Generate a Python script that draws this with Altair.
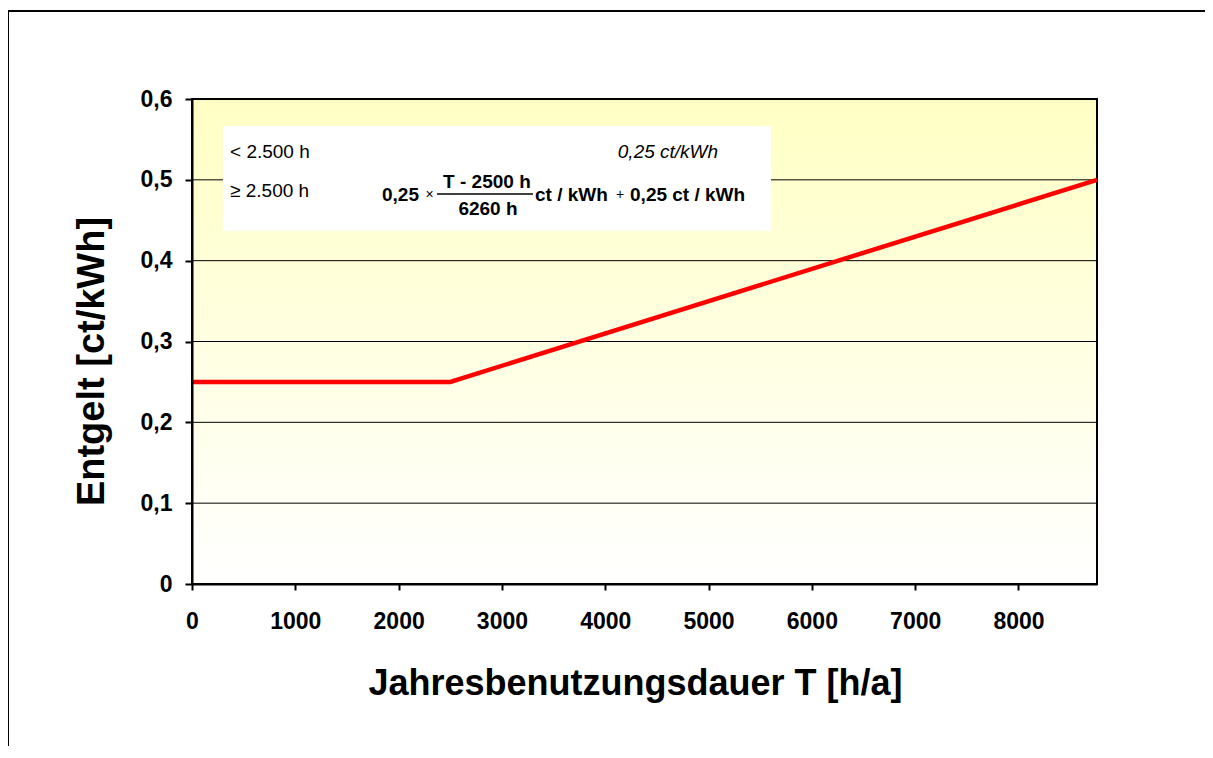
import altair as alt
import pandas as pd

# ---- data ----
T_hours = [0, 2500, 8760]
price = [0.25, 0.25, 0.5]
x_ticks = [0, 1000, 2000, 3000, 4000, 5000, 6000, 7000, 8000]
y_ticks = [0, 0.1, 0.2, 0.3, 0.4, 0.5, 0.6]
grid_vals = [0.1, 0.2, 0.3, 0.4, 0.5]

FONT = "Liberation Sans, Arial, sans-serif"

XDOM = [0, 8760]
YDOM = [0, 0.6]


def X(field="x"):
    return alt.X(
        f"{field}:Q",
        scale=alt.Scale(domain=XDOM, nice=False, zero=False),
        axis=alt.Axis(
            values=x_ticks, grid=False, title="Jahresbenutzungsdauer T [h/a]",
            format="d",
            labelFont=FONT, labelFontSize=23, labelFontWeight="bold", labelColor="black",
            labelPadding=20, tickSize=6, tickWidth=2, tickColor="black",
            domainColor="black", domainWidth=2, labelFlush=False,
            titleFont=FONT, titleFontSize=36, titleFontWeight="bold", titleColor="black",
            titleX=443, titleY=110, titleAlign="center", titleBaseline="alphabetic",
            zindex=1,
        ),
    )


def Y(field="y"):
    return alt.Y(
        f"{field}:Q",
        scale=alt.Scale(domain=YDOM, nice=False, zero=False),
        axis=alt.Axis(
            values=y_ticks, grid=False, title="Entgelt [ct/kWh]",
            labelExpr="datum.value == 0 ? '0' : replace(format(datum.value, '.1f'), '.', ',')",
            labelFont=FONT, labelFontSize=23, labelFontWeight="bold", labelColor="black",
            labelPadding=13, tickSize=7, tickWidth=2, tickColor="black",
            domainColor="black", domainWidth=2, labelFlush=False,
            titleFont=FONT, titleFontSize=38, titleFontWeight="bold", titleColor="black",
            titleAngle=270, titleX=-89, titleY=262, titleAlign="center",
            titleBaseline="alphabetic",
            zindex=1,
        ),
    )


one = pd.DataFrame({"x": [0], "x2": [8760], "y": [0], "y2": [0.6]})

background = alt.Chart(one).mark_rect(
    fill=alt.Gradient(
        gradient="linear",
        stops=[alt.GradientStop(color="#FFFFC4", offset=0),
               alt.GradientStop(color="#FFFFFF", offset=1)],
        x1=0, x2=0, y1=0, y2=1,
    ),
    stroke="black", strokeWidth=2,
).encode(x=X(), x2="x2:Q", y=Y(), y2="y2:Q")

grid = alt.Chart(pd.DataFrame({"y": grid_vals})).mark_rule(
    color="black", strokeWidth=1
).encode(y=Y())

line = alt.Chart(pd.DataFrame({"x": T_hours, "y": price})).mark_line(
    color="#FF0000", strokeWidth=4.5
).encode(x=X(), y=Y())

# white legend box (data coordinates)
box = alt.Chart(pd.DataFrame({"x": [300], "x2": [5605], "y": [0.4367], "y2": [0.5666]})).mark_rect(
    fill="white"
).encode(x=X(), x2="x2:Q", y=Y(), y2="y2:Q")

cond_labels = alt.Chart(pd.DataFrame({
    "x": [368, 368], "y": [0.5344, 0.4862], "t": ["< 2.500 h", "\u2265 2.500 h"]
})).mark_text(align="left", baseline="middle", font=FONT, fontSize=19, color="black").encode(
    x=X(), y=Y(), text="t:N")

flat_label = alt.Chart(pd.DataFrame({"x": [4607], "y": [0.5344], "t": ["0,25 ct/kWh"]})).mark_text(
    align="center", baseline="middle", font=FONT, fontSize=19, fontStyle="italic", color="black"
).encode(x=X(), y=Y(), text="t:N")

bold_left = alt.Chart(pd.DataFrame({
    "x": [1839, 3320, 4240], "y": [0.4813, 0.4813, 0.4813],
    "t": ["0,25", "ct / kWh", "0,25 ct / kWh"]
})).mark_text(align="left", baseline="middle", font=FONT, fontSize=19, fontWeight="bold",
              color="black").encode(x=X(), y=Y(), text="t:N")

small_ops = alt.Chart(pd.DataFrame({
    "x": [2300, 4143], "y": [0.4813, 0.4813], "t": ["\u00d7", "+"]
})).mark_text(align="center", baseline="middle", font=FONT, fontSize=14, color="black").encode(
    x=X(), y=Y(), text="t:N")

fraction = alt.Chart(pd.DataFrame({
    "x": [2855, 2865], "y": [0.4973, 0.4639], "t": ["T  -  2500 h", "6260 h"]
})).mark_text(align="center", baseline="middle", font=FONT, fontSize=19, fontWeight="bold",
              color="black").encode(x=X(), y=Y(), text="t:N")

frac_bar = alt.Chart(pd.DataFrame({"x": [2371], "x2": [3301], "y": [0.4825]})).mark_rule(
    color="black", strokeWidth=1.5
).encode(x=X(), x2="x2:Q", y=Y())

# outer frame (top and left edges visible in the reference)
frame_top = alt.Chart(one).mark_rule(color="black", strokeWidth=2).encode(
    x=alt.value(-184), x2=alt.value(1200), y=alt.value(-88))
frame_left = alt.Chart(one).mark_rule(color="black", strokeWidth=2).encode(
    x=alt.value(-184), y=alt.value(-88), y2=alt.value(900))

chart = alt.layer(
    background, grid, line, box, cond_labels, flat_label, bold_left, small_ops,
    fraction, frac_bar, frame_top, frame_left
).properties(
    width=905, height=485,
    autosize=alt.AutoSizeParams(type="none"),
    padding={"left": 184, "top": 91, "right": 108, "bottom": 162},
    background="white",
).configure_view(stroke=None)

chart.save("out.html", embed_options={"renderer": "svg", "actions": False})
